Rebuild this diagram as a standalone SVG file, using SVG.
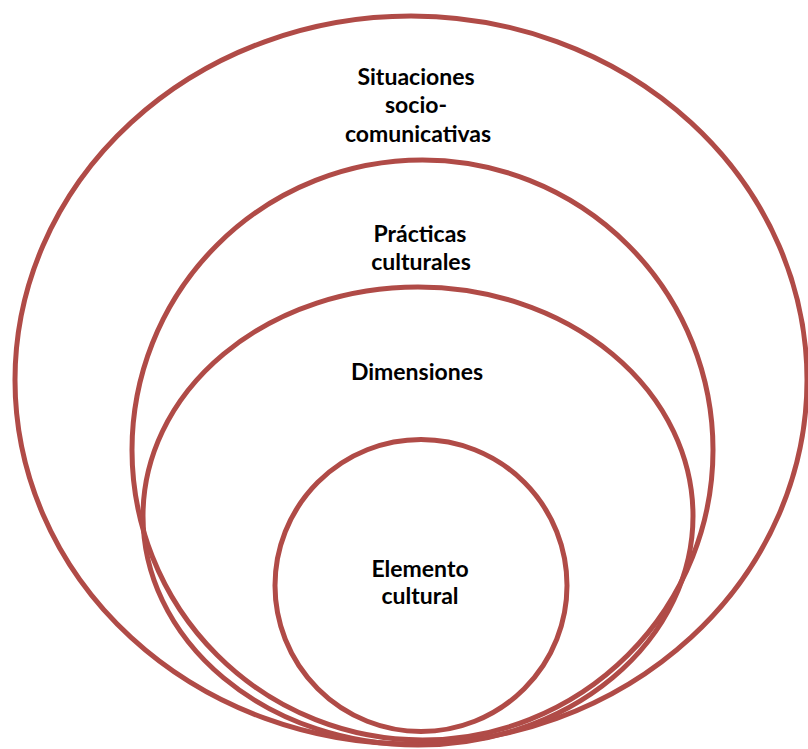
<svg xmlns="http://www.w3.org/2000/svg" width="808" height="749" viewBox="0 0 808 749">
<style>
.ring{fill:none;stroke:#b04b47;stroke-width:5}
.lbl{font-family:Lato,"Open Sans","Liberation Sans",sans-serif;font-weight:bold;font-size:23px;fill:#000;text-anchor:middle}
</style>
<rect width="808" height="749" fill="#fff"/>
<g id="situaciones">
<ellipse class="ring" cx="411" cy="380" rx="396" ry="364"/>
<text class="lbl" x="416" y="85">Situaciones</text>
<text class="lbl" x="416" y="113">socio-</text>
<text class="lbl" x="418" y="142">comunicativas</text>
</g>
<g id="practicas">
<ellipse class="ring" cx="422.5" cy="450" rx="290.5" ry="290"/>
<text class="lbl" x="420" y="242">Prácticas</text>
<text class="lbl" x="421" y="270">culturales</text>
</g>
<g id="dimensiones">
<ellipse class="ring" cx="418" cy="516" rx="275" ry="229"/>
<text class="lbl" x="417" y="380">Dimensiones</text>
</g>
<g id="elemento">
<circle class="ring" cx="421" cy="585.5" r="146"/>
<text class="lbl" x="420" y="577">Elemento</text>
<text class="lbl" x="420" y="604">cultural</text>
</g>
<g id="connectors"/>
</svg>
